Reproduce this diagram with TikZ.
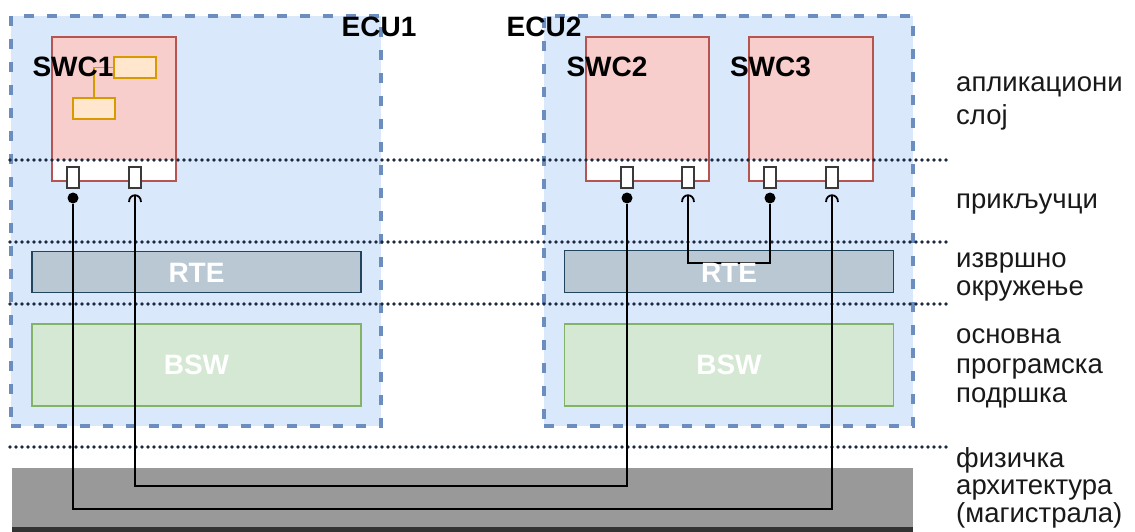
\documentclass[tikz,border=0pt]{standalone}
\usepackage{fontspec}
\setmainfont{Liberation Sans}

\definecolor{ecuFill}{HTML}{DAE8FC}
\definecolor{ecuLine}{HTML}{6C8EBF}
\definecolor{swcFill}{HTML}{F8CECC}
\definecolor{swcLine}{HTML}{B85450}
\definecolor{cmpFill}{HTML}{FFE6CC}
\definecolor{cmpLine}{HTML}{D79B00}
\definecolor{rteFill}{HTML}{BAC8D3}
\definecolor{rteLine}{HTML}{23445D}
\definecolor{bswFill}{HTML}{D5E8D4}
\definecolor{bswLine}{HTML}{82B366}
\definecolor{busFill}{HTML}{999999}
\definecolor{busEdge}{HTML}{333333}
\definecolor{layerDot}{HTML}{1A2840}
\definecolor{portLine}{HTML}{3A3A3A}

\tikzset{
  ecu/.style={draw=ecuLine, fill=ecuFill, line width=3.2pt,
    dash pattern=on 10pt off 13pt, inner sep=0pt},
  swc/.style={draw=swcLine, fill=white, line width=1.5pt, inner sep=0pt,
    minimum height=144pt,
    path picture={\fill[swcFill] (path picture bounding box.north west)
      rectangle ([yshift=21pt]path picture bounding box.south east);}},
  cmp/.style={draw=cmpLine, fill=cmpFill, line width=1.8pt, inner sep=0pt,
    minimum width=42pt, minimum height=21pt},
  rte/.style={draw=rteLine, fill=rteFill, line width=1.8pt, inner sep=0pt,
    minimum width=329pt},
  bsw/.style={draw=bswLine, fill=bswFill, line width=1.5pt, inner sep=0pt,
    minimum width=329pt, minimum height=82pt},
  port/.style={draw=portLine, fill=white, line width=1.8pt, inner sep=0pt,
    minimum width=12pt, minimum height=21pt},
  sdot/.style={circle, fill=black, inner sep=0pt, minimum size=11pt},
  wire/.style={draw=black, line width=2pt},
  socket/.style={draw=black, line width=1.8pt},
  layerline/.style={draw=layerDot, line width=3.6pt, line cap=round,
    dash pattern=on 0pt off 6pt},
  boldlbl/.style={inner sep=0pt, font=\fontsize{28}{30}\selectfont\bfseries},
  boxlbl/.style={inner sep=0pt, text=white, font=\fontsize{28}{30}\selectfont\bfseries},
  sidelbl/.style={inner sep=0pt, anchor=base west, text=black!90,
    font=\fontsize{27.5}{30}\selectfont},
}

\begin{document}
\begin{tikzpicture}[x=1pt, y=-1pt]
  \useasboundingbox (0,0) rectangle (1135,532);

  % ECU containers
  \node[ecu, minimum width=370pt, minimum height=410pt] (ecu1) at (196,221) {};
  \node[ecu, minimum width=369pt, minimum height=410pt] (ecu2) at (728.5,221) {};

  % software components
  \node[swc, minimum width=124pt] (swc1) at (114,109) {};
  \node[swc, minimum width=123pt] (swc2) at (647.5,109) {};
  \node[swc, minimum width=124pt] (swc3) at (811,109) {};

  % inner structure of SWC1
  \node[cmp] (cmpA) at (135,67.5) {};
  \node[cmp] (cmpB) at (94,108.5) {};
  \draw[draw=cmpLine, line width=1.8pt] (cmpA.west) -| (cmpB.north);

  % runtime environment and basic software
  \node[rte, minimum height=41pt] (rte1) at (196.5,272) {};
  \node[rte, minimum height=42pt] (rte2) at (729,271.5) {};
  \node[bsw] (bsw1) at (196.5,365) {};
  \node[bsw] (bsw2) at (729,365) {};

  % physical bus
  \fill[busFill] (12,468) rectangle (913,527);
  \fill[busEdge] (12,527) rectangle (913,532);

  % layer separators
  \draw[layerline] (10,160) -- (948,160);
  \draw[layerline] (10,242) -- (948,242);
  \draw[layerline] (10,304) -- (948,304);
  \draw[layerline] (10,447) -- (948,447);

  % ports
  \node[port] (p1a) at (73,177.5) {};
  \node[port] (p1b) at (135,177.5) {};
  \node[port] (p2a) at (627,177.5) {};
  \node[port] (p2b) at (688,177.5) {};
  \node[port] (p3a) at (770,177.5) {};
  \node[port] (p3b) at (832,177.5) {};

  % sender ends
  \node[sdot] (s1) at (73,198) {};
  \node[sdot] (s2) at (627,198) {};
  \node[sdot] (s3) at (770,198) {};

  % receiver ends
  \coordinate (r1) at (135,195);
  \coordinate (r2) at (688,195);
  \coordinate (r3) at (832,195);
  \draw[socket] (129,202) .. controls (129,193) and (141,193) .. (141,202);
  \draw[socket] (682,202) .. controls (682,193) and (694,193) .. (694,202);
  \draw[socket] (826,202) .. controls (826,193) and (838,193) .. (838,202);

  % routing points
  \coordinate (busOuter) at (450,509);
  \coordinate (busInner) at (380,486);
  \coordinate (rteLink) at (729,263);

  % connections
  \draw[wire] (s1) |- (busOuter) -| (r3);
  \draw[wire] (r1) |- (busInner) -| (s2);
  \draw[wire] (r2) |- (rteLink) -| (s3);

  % labels
  \node[boldlbl, anchor=base] (ecu1lbl) at (379,37) {ECU1};
  \node[boldlbl, anchor=base] (ecu2lbl) at (544,37) {ECU2};
  \node[boldlbl, anchor=base] (swc1lbl) at (73,77) {SWC1};
  \node[boldlbl, anchor=base] (swc2lbl) at (607,77) {SWC2};
  \node[boldlbl, anchor=base] (swc3lbl) at (770.5,77) {SWC3};
  \node[boxlbl, anchor=base] (rte1lbl) at (rte1.center |- 0,282) {RTE};
  \node[boxlbl, anchor=base] (rte2lbl) at (rte2.center |- 0,282) {RTE};
  \node[boxlbl, anchor=base] (bsw1lbl) at (bsw1.center |- 0,374) {BSW};
  \node[boxlbl, anchor=base] (bsw2lbl) at (bsw2.center |- 0,374) {BSW};

  % layer names
  \node[sidelbl] (appA) at (956,92) {апликациони};
  \node[sidelbl] (appB) at (956,125) {слој};
  \node[sidelbl] (portsL) at (956,208) {прикључци};
  \node[sidelbl] (rteA) at (956,267) {извршно};
  \node[sidelbl] (rteB) at (956,295) {окружење};
  \node[sidelbl] (bswA) at (956,343) {основна};
  \node[sidelbl] (bswB) at (956,373) {програмска};
  \node[sidelbl] (bswC) at (956,402) {подршка};
  \node[sidelbl] (phyA) at (956,467) {физичка};
  \node[sidelbl] (phyB) at (956,494) {архитектура};
  \node[sidelbl] (phyC) at (956,522) {(магистрала)};
\end{tikzpicture}
\end{document}
